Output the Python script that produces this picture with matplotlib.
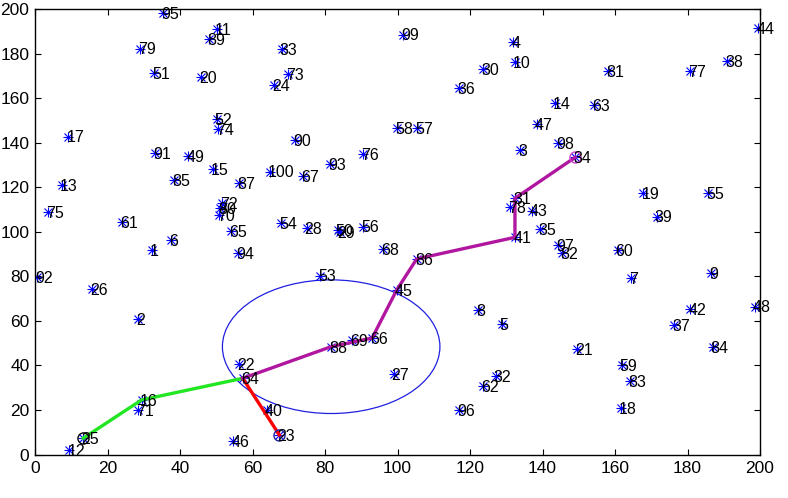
import matplotlib
matplotlib.use("Agg")
import matplotlib.pyplot as plt
from matplotlib.patches import Circle

plt.rcParams['font.family'] = ['Liberation Sans', 'DejaVu Sans']

node_ids = list(range(1, 101))
node_x = [32.2, 28.5, 133.8, 131.9, 128.7, 37.4, 164.4, 122.3, 186.4, 132.4,
          50.1, 9.5, 7.4, 143.4, 49.0, 29.4, 9.2, 161.6, 167.8, 45.8,
          149.6, 56.4, 67.4, 65.9, 13.3, 15.8, 98.9, 74.9, 84.0, 123.7,
          132.4, 127.1, 68.0, 149.0, 139.3, 117.0, 176.3, 191.0, 171.5, 63.9,
          132.4, 180.7, 137.0, 199.5, 99.8, 54.7, 138.4, 198.6, 42.3, 83.5,
          32.8, 50.1, 78.6, 67.8, 185.7, 90.6, 105.3, 99.9, 161.8, 160.7,
          23.9, 123.7, 154.2, 57.3, 54.0, 93.0, 74.0, 96.1, 87.5, 50.8,
          28.5, 51.7, 69.9, 50.6, 3.7, 90.4, 180.7, 131.0, 29.0, 51.0,
          158.2, 145.3, 164.1, 186.9, 38.3, 105.3, 56.3, 81.7, 48.1, 71.7,
          33.1, 0.5, 81.4, 56.1, 35.3, 117.1, 144.4, 144.4, 101.6, 64.8]
node_y = [91.8, 60.7, 136.7, 185.3, 58.6, 96.3, 79.1, 64.9, 81.3, 176.1,
          190.9, 2.0, 121.0, 157.7, 128.0, 24.5, 142.7, 20.7, 117.5, 169.6,
          47.2, 40.5, 8.8, 165.7, 7.3, 74.2, 36.1, 101.5, 99.8, 173.2,
          115.0, 35.2, 181.9, 133.4, 101.1, 164.4, 58.1, 176.7, 106.8, 20.0,
          97.5, 65.3, 109.5, 191.3, 73.9, 6.2, 148.2, 66.4, 134.0, 100.8,
          171.4, 150.5, 80.3, 103.8, 117.5, 102.3, 146.7, 146.4, 40.2, 91.8,
          104.2, 30.8, 156.9, 34.2, 100.3, 52.3, 125.0, 92.3, 51.5, 107.5,
          20.0, 112.8, 170.8, 146.0, 108.7, 134.9, 172.2, 111.2, 182.2, 110.5,
          172.2, 90.6, 33.1, 48.4, 123.2, 87.8, 122.0, 48.4, 186.5, 141.2,
          135.5, 79.8, 130.4, 90.3, 198.2, 20.0, 94.1, 139.7, 188.5, 127.0]

green_path = [25, 16, 64]
red_path = [64, 23]
magenta_path = [64, 88, 66, 45, 86, 41, 31, 34]
circle_center_node = 88
circle_radius = 30
circled_nodes = [(25, 'black'), (23, '#2020a0'), (34, '#d040d0')]

x_ticks = list(range(0, 201, 20))
y_ticks = list(range(0, 201, 20))

fig = plt.figure(figsize=(7.88, 4.98), dpi=100)
ax = fig.add_axes([35/788, 1 - 454.5/498, 725/788, 445.5/498])

def coords(path):
    return [node_x[i - 1] for i in path], [node_y[i - 1] for i in path]

ax.plot(node_x, node_y, linestyle='none', marker='+', color='blue', markersize=7.5, markeredgewidth=0.8)
ax.plot(node_x, node_y, linestyle='none', marker='x', color='blue', markersize=5.5, markeredgewidth=0.8)

gx, gy = coords(green_path)
ax.plot(gx, gy, color='#22e622', linewidth=2.4)
rx, ry = coords(red_path)
ax.plot(rx, ry, color='#ff0000', linewidth=2.4)
mx, my = coords(magenta_path)
ax.plot(mx, my, color='#b0169f', linewidth=2.4)

for n, c in circled_nodes:
    ax.plot(node_x[n - 1], node_y[n - 1], marker='o', markerfacecolor='none',
            markeredgecolor=c, markersize=8, markeredgewidth=1)

circ = Circle((node_x[circle_center_node - 1], node_y[circle_center_node - 1]),
              circle_radius, fill=False, edgecolor='#2020e0', linewidth=0.9)
ax.add_patch(circ)

for i, x, y in zip(node_ids, node_x, node_y):
    ax.text(x - 0.5, y - 0.6, str(i), fontsize=11.5, ha='left', va='center', color='black')

ax.set_xlim(0, 200)
ax.set_ylim(0, 200)
ax.set_xticks(x_ticks)
ax.set_yticks(y_ticks)
ax.tick_params(direction='in', length=4, top=True, right=True, labelsize=12.5, width=0.8)
ax.tick_params(axis='x', pad=5)
ax.tick_params(axis='y', pad=4)
for s in ax.spines.values():
    s.set_linewidth(1.0)

fig.savefig('out.png', dpi=100)
